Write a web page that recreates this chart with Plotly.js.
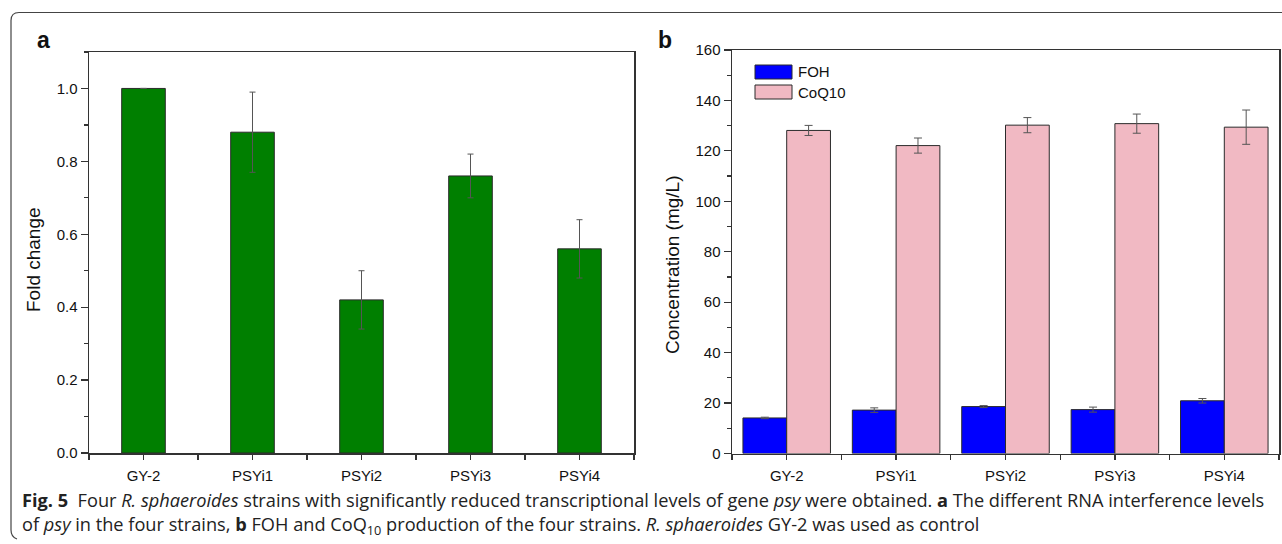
<!DOCTYPE html>
<html>
<head>
<meta charset="utf-8">
<script src="https://cdn.plot.ly/plotly-3.0.1.min.js"></script>
<style>html,body{margin:0;padding:0;background:#fff;}#chart{width:1282px;height:544px;}</style>
</head>
<body>
<div id="chart"></div>
<script>
// ---- data ----
const categories = ['GY-2', 'PSYi1', 'PSYi2', 'PSYi3', 'PSYi4'];
const foldChange = [1.0, 0.88, 0.42, 0.76, 0.56];
const foldChangeErr = [0, 0.11, 0.08, 0.06, 0.08];
const seriesNames = ['FOH', 'CoQ10'];
const fohValues = [14.1, 17.2, 18.6, 17.4, 20.9];
const fohErr = [0.3, 0.9, 0.4, 1.0, 0.9];
const coq10Values = [128.1, 122.1, 130.2, 130.8, 129.4];
const coq10Err = [2.0, 3.0, 3.0, 3.8, 6.8];
const yTicksA = [0, 0.2, 0.4, 0.6, 0.8, 1.0];
const yTickTextA = ['0.0', '0.2', '0.4', '0.6', '0.8', '1.0'];
const yTicksB = [0, 20, 40, 60, 80, 100, 120, 140, 160];
const yTitleA = 'Fold change';
const yTitleB = 'Concentration (mg/L)';
const captionLine1 = '<b>Fig. 5</b>\u00a0\u00a0Four <i>R. sphaeroides</i> strains with significantly reduced transcriptional levels of gene <i>psy</i> were obtained. <b>a</b> The different RNA interference levels';
const captionLine2 = 'of <i>psy</i> in the four strains, <b>b</b> FOH and CoQ<sub>10</sub> production of the four strains. <i>R. sphaeroides</i> GY-2 was used as control';

// ---- layout helpers ----
const W = 1282, H = 544;
const px = v => v / W;
const py = v => 1 - v / H;
const idx = categories.map((_, i) => i);
const AX = '#333';
const FONT = 'Liberation Sans, Arial, Helvetica, sans-serif';
const CAPFONT = 'Open Sans, Noto Sans, sans-serif';

const traces = [
  {
    type: 'bar', x: idx, y: foldChange, width: 0.4, xaxis: 'x', yaxis: 'y',
    name: 'Fold change',
    marker: {color: '#007F00', line: {color: '#2b2b2b', width: 1}},
    error_y: {type: 'data', array: foldChangeErr, visible: true, color: '#555', thickness: 1, width: 3}
  },
  {
    type: 'bar', x: idx, y: fohValues, xaxis: 'x2', yaxis: 'y2', name: seriesNames[0],
    marker: {color: '#0000FF', line: {color: '#2b2b2b', width: 1}},
    error_y: {type: 'data', array: fohErr, visible: true, color: '#555', thickness: 1, width: 4}
  },
  {
    type: 'bar', x: idx, y: coq10Values, xaxis: 'x2', yaxis: 'y2', name: seriesNames[1],
    marker: {color: '#F1B9C3', line: {color: '#2b2b2b', width: 1}},
    error_y: {type: 'data', array: coq10Err, visible: true, color: '#555', thickness: 1, width: 4}
  }
];

function xAxis(d0, d1, anchor) {
  return {
    domain: [px(d0), px(d1)], anchor: anchor, range: [-0.5, 4.5],
    tickmode: 'array', tickvals: idx, ticktext: categories,
    ticks: 'outside', ticklen: 5, tickwidth: 1.2, tickcolor: AX,
    ticklabelstandoff: 3,
    showline: true, linecolor: AX, linewidth: 1.5, mirror: true,
    showgrid: false, zeroline: false, fixedrange: true,
    tickfont: {family: FONT, size: 15, color: '#111'},
    minor: {ticks: 'outside', ticklen: 5, tickwidth: 1.2, tickcolor: AX, tick0: 0.5, dtick: 1, showgrid: false}
  };
}
function yAxis(d0, d1, anchor, range, tv, tt, mdt) {
  return {
    domain: [py(d1), py(d0)], anchor: anchor, range: range,
    tickmode: 'array', tickvals: tv, ticktext: tt,
    ticks: 'outside', ticklen: 7, tickwidth: 1.2, tickcolor: AX,
    showline: true, linecolor: AX, linewidth: 1.5, mirror: true,
    showgrid: false, zeroline: false, fixedrange: true,
    tickfont: {family: FONT, size: 15, color: '#111'},
    minor: {ticks: 'outside', ticklen: 4, tickwidth: 1.2, tickcolor: AX, tick0: 0, dtick: mdt, showgrid: false}
  };
}

const layout = {
  width: W, height: H, margin: {l: 0, r: 0, t: 0, b: 0, pad: 0},
  paper_bgcolor: '#fff', plot_bgcolor: '#fff', showlegend: false,
  barmode: 'group', bargap: 0.2, bargroupgap: 0,
  font: {family: FONT, size: 15, color: '#111'},
  xaxis: xAxis(89, 634, 'y'),
  yaxis: yAxis(52, 453, 'x', [0, 1.1], yTicksA, yTickTextA, 0.1),
  xaxis2: xAxis(732, 1279, 'y2'),
  yaxis2: yAxis(50, 453.5, 'x2', [0, 160], yTicksB, yTicksB.map(String), 10),
  shapes: [
    // figure frame (rounded left corners)
    {type: 'path', xref: 'paper', yref: 'paper', layer: 'above',
     path: `M ${px(1282)} ${py(12.5)} L ${px(19)} ${py(12.5)} Q ${px(11)} ${py(12.5)} ${px(11)} ${py(20.5)} L ${px(11)} ${py(530)} Q ${px(11)} ${py(537)} ${px(17)} ${py(539)}`,
     line: {color: '#444', width: 1.2}},
    // legend swatches
    {type: 'rect', xref: 'paper', yref: 'paper', x0: px(755), x1: px(792), y0: py(79), y1: py(65),
     fillcolor: '#0000FF', line: {color: '#2b2b2b', width: 1}},
    {type: 'rect', xref: 'paper', yref: 'paper', x0: px(755), x1: px(792), y0: py(99), y1: py(85),
     fillcolor: '#F1B9C3', line: {color: '#2b2b2b', width: 1}}
  ],
  annotations: [
    {text: '<b>a</b>', x: px(35), y: py(40), xref: 'paper', yref: 'paper', xanchor: 'left', yanchor: 'middle', showarrow: false, font: {family: FONT, size: 23, color: '#111'}},
    {text: '<b>b</b>', x: px(656), y: py(40), xref: 'paper', yref: 'paper', xanchor: 'left', yanchor: 'middle', showarrow: false, font: {family: FONT, size: 23, color: '#111'}},
    {text: yTitleA, x: px(33), y: py(260), xref: 'paper', yref: 'paper', xanchor: 'center', yanchor: 'middle', textangle: -90, showarrow: false, font: {family: FONT, size: 19, color: '#111'}},
    {text: yTitleB, x: px(673), y: py(265), xref: 'paper', yref: 'paper', xanchor: 'center', yanchor: 'middle', textangle: -90, showarrow: false, font: {family: FONT, size: 19, color: '#111'}},
    {text: seriesNames[0], x: px(796), y: py(72), xref: 'paper', yref: 'paper', xanchor: 'left', yanchor: 'middle', showarrow: false, font: {family: FONT, size: 15, color: '#111'}},
    {text: seriesNames[1], x: px(796), y: py(92), xref: 'paper', yref: 'paper', xanchor: 'left', yanchor: 'middle', showarrow: false, font: {family: FONT, size: 15, color: '#111'}},
    {text: captionLine1, x: px(20), y: py(500), xref: 'paper', yref: 'paper', xanchor: 'left', yanchor: 'middle', showarrow: false, font: {family: CAPFONT, size: 18.2, color: '#222'}},
    {text: captionLine2, x: px(20), y: py(525), xref: 'paper', yref: 'paper', xanchor: 'left', yanchor: 'middle', showarrow: false, font: {family: CAPFONT, size: 18.2, color: '#222'}}
  ]
};

Plotly.newPlot('chart', traces, layout, {staticPlot: true, displayModeBar: false});
</script>
</body>
</html>
